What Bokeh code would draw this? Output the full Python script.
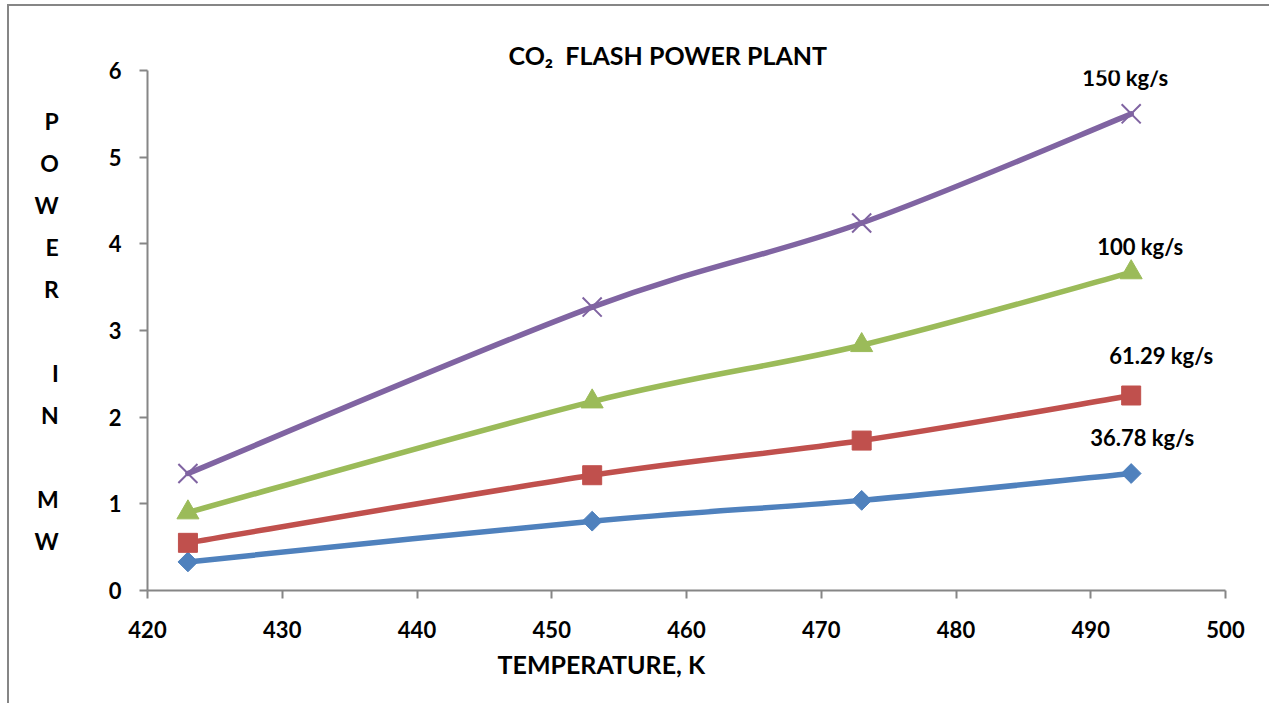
import math

from bokeh.embed import file_html
from bokeh.models import FixedTicker, Label, Range1d, Title
from bokeh.plotting import figure
from bokeh.resources import INLINE

# ---- data -------------------------------------------------------------
temperature_k = [423, 453, 473, 493]

power_36_78 = [0.33, 0.80, 1.04, 1.35]
power_61_29 = [0.55, 1.33, 1.73, 2.25]
power_100 = [0.90, 2.18, 2.83, 3.67]
power_150 = [1.35, 3.27, 4.24, 5.50]

series_names = ["36.78 kg/s", "61.29 kg/s", "100 kg/s", "150 kg/s"]
x_tick_values = [420, 430, 440, 450, 460, 470, 480, 490, 500]
y_tick_values = [0, 1, 2, 3, 4, 5, 6]

chart_title = "CO\u2082\u00a0\u00a0FLASH POWER PLANT"
x_title = "TEMPERATURE, K"
y_title = "P\nO\nW\nE\nR\n\nI\nN\n\nM\nW"

# ---- page geometry ----------------------------------------------------
OX, OY = 9, 6                    # canvas origin on the page (margin + border)
W, H = 1271 - OX, 705 - OY
FL, FR, FT, FB = 147 - OX, 1225 - OX, 70 - OY, 590 - OY   # frame edges
X0, X1, Y0, Y1 = 420, 500, 0, 6

FONT = "Lato"
TEXT = "#000000"
AXIS = "#868686"


def smooth_segments(xs, ys):
    """Cubic Bezier pieces through every point (spreadsheet-style smoothing)."""
    n = len(xs)
    seg = dict(x0=[], y0=[], x1=[], y1=[], cx0=[], cy0=[], cx1=[], cy1=[])
    for i in range(n - 1):
        a = max(i - 1, 0)
        d = min(i + 2, n - 1)
        seg["x0"].append(xs[i]); seg["y0"].append(ys[i])
        seg["x1"].append(xs[i + 1]); seg["y1"].append(ys[i + 1])
        seg["cx0"].append(xs[i] + (xs[i + 1] - xs[a]) / 6)
        seg["cy0"].append(ys[i] + (ys[i + 1] - ys[a]) / 6)
        seg["cx1"].append(xs[i + 1] - (xs[d] - xs[i]) / 6)
        seg["cy1"].append(ys[i + 1] - (ys[d] - ys[i]) / 6)
    return seg


p = figure(
    width=W, height=H,
    x_range=Range1d(X0, X1), y_range=Range1d(Y0, Y1),
    output_backend="svg", toolbar_location=None,
    min_border_left=FL, min_border_right=W - FR,
    min_border_top=FT, min_border_bottom=H - FB,
)
p.styles = {
    "margin-left": "7px", "margin-top": "4px",
    "border-left": f"2px solid {AXIS}", "border-top": f"2px solid {AXIS}",
}
p.outline_line_color = None
p.background_fill_color = "white"
p.border_fill_color = "white"
p.xgrid.visible = False
p.ygrid.visible = False

for ax, ticks in ((p.xaxis[0], x_tick_values), (p.yaxis[0], y_tick_values)):
    ax.ticker = FixedTicker(ticks=ticks)
    ax.axis_line_color = AXIS
    ax.axis_line_width = 2
    ax.major_tick_line_color = AXIS
    ax.major_tick_line_width = 2
    ax.major_tick_out = 8
    ax.major_tick_in = 0
    ax.minor_tick_line_color = None
    ax.major_label_text_font = FONT
    ax.major_label_text_font_style = "bold"
    ax.major_label_text_font_size = "22px"
    ax.major_label_text_color = TEXT
p.xaxis[0].major_label_standoff = 22
p.yaxis[0].major_label_standoff = 18

# stacked letters beside the value axis
yax = p.yaxis[0]
yax.axis_label = y_title
yax.axis_label_orientation = "horizontal"
yax.axis_label_text_font = FONT
yax.axis_label_text_font_style = "bold"
yax.axis_label_text_font_size = "23px"
yax.axis_label_text_color = TEXT
yax.axis_label_text_line_height = 1.5
yax.axis_label_standoff = 47

# ---- series -----------------------------------------------------------
styles = [
    (power_36_78, "#4F81BD", dict(marker="square", size=14, angle=math.pi / 4)),
    (power_61_29, "#C0504D", dict(marker="square", size=19)),
    (power_100, "#9BBB59", dict(marker="triangle", size=22)),
    (power_150, "#8064A2", dict(marker="x", size=27, line_width=2)),
]

for ys, color, mk in styles:
    seg = smooth_segments(temperature_k, ys)
    p.bezier(line_color=color, line_width=5.5, line_cap="round", **seg)
for ys, color, mk in styles:
    p.scatter(temperature_k, ys, fill_color=color, line_color=color, **mk)

# series names next to the last point (pixel offsets)
name_offsets = [(11, 36), (30, 40), (9, 26), (-6, 36)]
for (ys, color, mk), name, (dx, dy) in zip(styles, series_names, name_offsets):
    p.add_layout(Label(
        x=temperature_k[-1], y=ys[-1], x_offset=dx, y_offset=dy, text=name,
        text_font=FONT, text_font_style="bold", text_font_size="22px",
        text_color=TEXT, text_align="center", text_baseline="alphabetic",
    ))

# ---- titles -----------------------------------------------------------
p.add_layout(Title(
    text=chart_title, align="left", offset=508 - 147, standoff=2,
    text_font=FONT, text_font_style="bold", text_font_size="25px",
    text_color=TEXT,
), "above")
p.add_layout(Title(
    text=x_title, align="left", offset=497 - 147, standoff=12,
    text_font=FONT, text_font_style="bold", text_font_size="25px",
    text_color=TEXT,
), "below")

open("out.html", "w").write(file_html(p, INLINE))
